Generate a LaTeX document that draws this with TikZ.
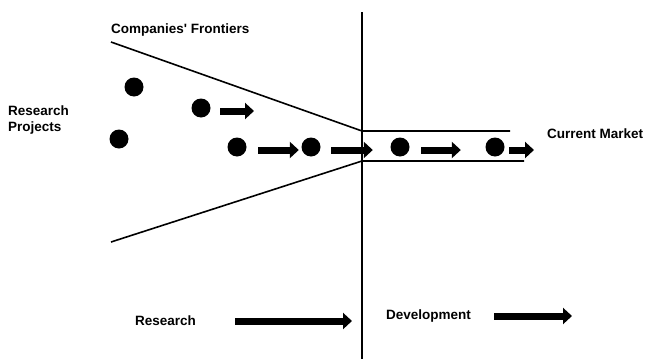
\documentclass[tikz,border=0pt]{standalone}
\usepackage{fontspec}
\setmainfont{Liberation Sans}
\usetikzlibrary{arrows.meta}
\begin{document}
\begin{tikzpicture}[x=1pt,y=-1pt,
		font=\bfseries\fontsize{13.5}{16}\selectfont,
		project/.style={circle,fill,inner sep=0,minimum size=19pt},
		border/.style={line width=1.6pt},
		flow/.style={line width=7pt,-{Triangle[length=9pt,width=16pt]}},
		label/.style={anchor=west,inner sep=0}]
	\useasboundingbox (0,0) rectangle (648,359);
	\node[label] (frontiers) at (111,30) {Companies\textquotesingle{} Frontiers};
	\node[label,align=left] (projects) at (8,120) {Research\\Projects};
	\node[label] (market) at (547,134) {Current Market};
	\node[label] (research) at (135,321) {Research};
	\node[label] (development) at (386,316) {Development};
	\coordinate (gatetop) at (362,12);
	\coordinate (gatebottom) at (362,359);
	\coordinate (upperfront) at (111,42);
	\coordinate (lowerfront) at (111,242);
	\coordinate (upperneck) at (362,131);
	\coordinate (lowerneck) at (362,161);
	\coordinate (upperend) at (510,131);
	\coordinate (lowerend) at (524,161);
	\draw[border] (gatetop) -- (gatebottom);
	\draw[border] (upperfront) -- (upperneck) -- (upperend);
	\draw[border] (lowerfront) -- (lowerneck) -- (lowerend);
	\node[project] (p1) at (134,87) {};
	\node[project] (p2) at (201,108) {};
	\node[project] (p3) at (119,139) {};
	\node[project] (p4) at (237,147) {};
	\node[project] (p5) at (311,147) {};
	\node[project] (p6) at (400,147) {};
	\node[project] (p7) at (495,147) {};
	\coordinate (p2out) at (254,111);
	\coordinate (p7out) at (534,150);
	\draw[flow,shorten <=9.5pt] ([yshift=-3pt]p2.east) -- (p2out);
	\draw[flow,shorten <=11.5pt,shorten >=2.5pt] ([yshift=-3pt]p4.east) -- ([yshift=-3pt]p5.west);
	\draw[flow,shorten <=10.5pt,shorten >=17.5pt] ([yshift=-3pt]p5.east) -- ([yshift=-3pt]p6.west);
	\draw[flow,shorten <=11.5pt,shorten >=24.5pt] ([yshift=-3pt]p6.east) -- ([yshift=-3pt]p7.west);
	\draw[flow,shorten <=4.5pt] ([yshift=-3pt]p7.east) -- (p7out);
	\coordinate (researchfrom) at (235,321);
	\coordinate (researchto) at (352,321);
	\coordinate (developfrom) at (494,316);
	\coordinate (developto) at (572,316);
	\draw[flow] (researchfrom) -- (researchto);
	\draw[flow] (developfrom) -- (developto);
\end{tikzpicture}
\end{document}
